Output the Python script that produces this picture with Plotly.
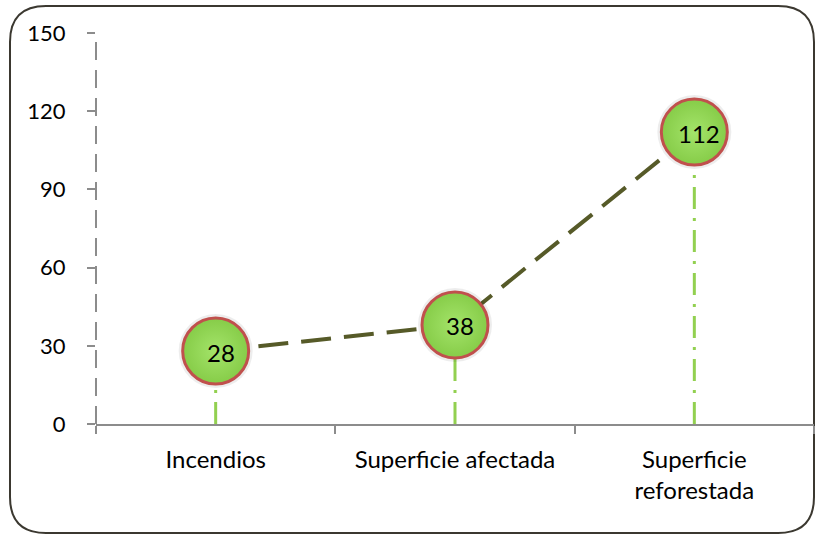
import plotly.graph_objects as go

categories = ["Incendios", "Superficie afectada", "Superficie<br>reforestada"]
values = [28, 38, 112]
y_ticks = [0, 30, 60, 90, 120, 150]

W, H = 817, 535
ML, MR, MT, MB = 96, 3, 33, 111
PW, PH = W - ML - MR, H - MT - MB

fig = go.Figure()

# drop lines
for c, v in zip(categories, values):
    fig.add_trace(go.Scatter(
        x=[c, c], y=[0, v], mode="lines",
        line=dict(color="#92D050", width=3, dash="22px,9px,3px,9px"),
        hoverinfo="skip", showlegend=False))

# main dashed line
fig.add_trace(go.Scatter(
    x=categories, y=values, mode="lines",
    line=dict(color="#565a28", width=4, dash="30px,13px"),
    showlegend=False, hoverinfo="skip"))

# shadow
fig.add_trace(go.Scatter(
    x=categories, y=values, mode="markers",
    marker=dict(size=74, color="rgba(0,0,0,0.07)", line=dict(width=0)),
    showlegend=False, hoverinfo="skip"))

# markers
fig.add_trace(go.Scatter(
    x=categories, y=values, mode="markers",
    marker=dict(size=66, color="#86cc48",
                gradient=dict(type="radial", color="#a4e46a"),
                line=dict(color="#c0504d", width=3)),
    showlegend=False))

for c, v in zip(categories, values):
    fig.add_annotation(x=c, y=v, text=str(v), showarrow=False,
                       xshift=5, yshift=-1,
                       font=dict(family="Lato", size=24, color="#000000"))

# dashed y axis line
fig.add_shape(type="line", xref="paper", yref="paper", x0=0, x1=0, y0=0, y1=1,
              line=dict(color="#8c8c8c", width=2, dash="18px,10px"), layer="below")

# rounded outer border
def px2paper_x(px):
    return (px - ML) / PW

def px2paper_y(py):
    return (H - MB - py) / PH

L, R, T, B = 10, 814, 6, 533
rad = 36
rx, ry = rad / PW, rad / PH
x0, x1 = px2paper_x(L), px2paper_x(R)
y0, y1 = px2paper_y(B), px2paper_y(T)
path = (f"M {x0+rx},{y1} L {x1-rx},{y1} Q {x1},{y1} {x1},{y1-ry} "
        f"L {x1},{y0+ry} Q {x1},{y0} {x1-rx},{y0} "
        f"L {x0+rx},{y0} Q {x0},{y0} {x0},{y0+ry} "
        f"L {x0},{y1-ry} Q {x0},{y1} {x0+rx},{y1} Z")
fig.add_shape(type="path", xref="paper", yref="paper", path=path,
              line=dict(color="#3b3830", width=2), layer="below")

fig.update_layout(
    width=W, height=H,
    margin=dict(l=ML, r=MR, t=MT, b=MB),
    paper_bgcolor="white", plot_bgcolor="white",
    font=dict(family="Lato", size=22, color="#000000"),
    xaxis=dict(type="category", range=[-0.5, 2.5], showgrid=False,
               showline=True, linecolor="#8c8c8c", linewidth=2,
               ticks="outside", tickson="boundaries", ticklen=8,
               tickcolor="#8c8c8c", tickwidth=2, zeroline=False,
               tickfont=dict(family="Lato", size=24), ticklabelstandoff=13),
    yaxis=dict(range=[0, 150], tickvals=y_ticks, showgrid=False,
               showline=False, zeroline=False, ticks="outside", ticklen=8,
               tickcolor="#8c8c8c", tickwidth=2,
               tickfont=dict(family="Lato", size=22), ticklabelstandoff=17),
)

fig.write_html("out.html", config={"displayModeBar": False},
               post_script="document.body.style.margin='0';")
